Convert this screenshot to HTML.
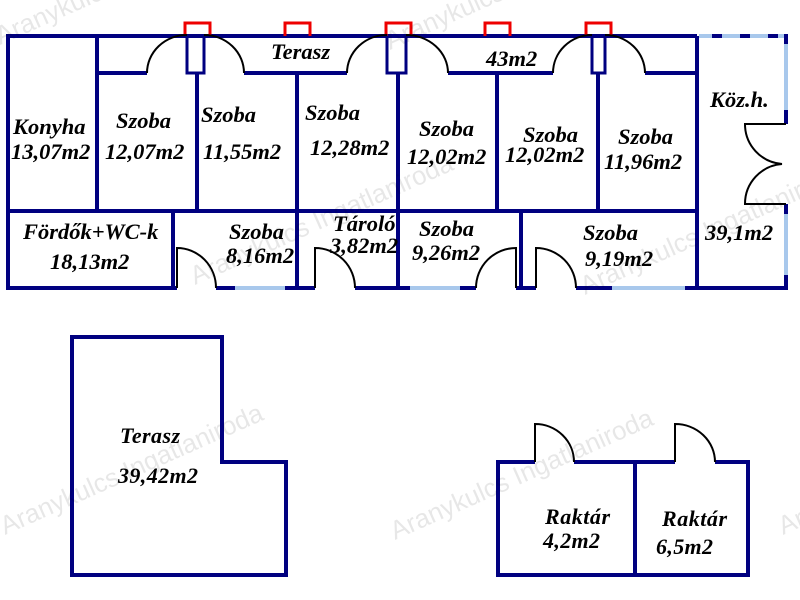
<!DOCTYPE html>
<html><head><meta charset="utf-8"><style>
html,body{margin:0;padding:0;background:#fff;width:800px;height:600px;overflow:hidden}
svg text{font-family:"Liberation Serif",serif;font-weight:bold;font-style:italic;font-size:22.5px;fill:#000}
.wm{font-family:"Liberation Sans",sans-serif;font-style:normal;font-weight:normal;font-size:26px;fill:#000;opacity:0.09}
</style></head><body>
<svg width="800" height="600" viewBox="0 0 800 600" xmlns="http://www.w3.org/2000/svg">
<g fill="none" stroke="#000080" stroke-width="4">
<polyline points="8,36 697,36"/>
<line x1="8" y1="34" x2="8" y2="290"/>
<line x1="8" y1="288" x2="786" y2="288"/>
<line x1="97" y1="73" x2="147" y2="73"/>
<line x1="244" y1="73" x2="347" y2="73"/>
<line x1="448" y1="73" x2="553" y2="73"/>
<line x1="645" y1="73" x2="697" y2="73"/>
<rect x="187" y="36" width="17" height="37" stroke-width="3"/>
<rect x="387" y="36" width="19" height="37" stroke-width="3"/>
<rect x="592" y="36" width="13" height="37" stroke-width="3"/>
<line x1="97" y1="36" x2="97" y2="211"/>
<line x1="197" y1="73" x2="197" y2="211"/>
<line x1="297" y1="73" x2="297" y2="288"/>
<line x1="398" y1="73" x2="398" y2="288"/>
<line x1="497" y1="73" x2="497" y2="211"/>
<line x1="598" y1="73" x2="598" y2="211"/>
<line x1="697" y1="36" x2="697" y2="288"/>
<line x1="8" y1="211" x2="697" y2="211"/>
<line x1="173" y1="211" x2="173" y2="288"/>
<line x1="521" y1="211" x2="521" y2="288"/>
</g>
<g stroke="#a8c8ec" stroke-width="4">
<line x1="235" y1="288" x2="285" y2="288"/>
<line x1="410" y1="288" x2="460" y2="288"/>
<line x1="612" y1="288" x2="685" y2="288"/>
<line x1="699" y1="36" x2="786" y2="36"/>
<line x1="786" y1="36" x2="786" y2="288"/>
</g>
<g stroke="#fff" stroke-width="5">
<line x1="177" y1="288" x2="216" y2="288"/>
<line x1="315" y1="288" x2="355" y2="288"/>
<line x1="476" y1="288" x2="516" y2="288"/>
<line x1="536" y1="288" x2="576" y2="288"/>
<line x1="786" y1="124" x2="786" y2="204"/>
</g>
<g stroke="#000080" stroke-width="4">
<line x1="712" y1="36" x2="722" y2="36"/><line x1="740" y1="36" x2="750" y2="36"/><line x1="768" y1="36" x2="778" y2="36"/>
<line x1="786" y1="34" x2="786" y2="44"/><line x1="786" y1="110" x2="786" y2="124"/><line x1="786" y1="204" x2="786" y2="214"/><line x1="786" y1="275" x2="786" y2="290"/>
</g>
<g fill="none" stroke="#ee0000" stroke-width="3">
<polyline points="185,36 185,23 210,23 210,36"/>
<polyline points="285,36 285,23 310,23 310,36"/>
<polyline points="386,36 386,23 411,23 411,36"/>
<polyline points="485,36 485,23 510,23 510,36"/>
<polyline points="586,36 586,23 611,23 611,36"/>
</g>
<g fill="none" stroke="#000" stroke-width="2">
<path d="M147,73 A40,38 0 0 1 187,35"/>
<path d="M204,35 A40,38 0 0 1 244,73"/>
<path d="M347,73 A40,38 0 0 1 387,35"/>
<path d="M406,35 A42,38 0 0 1 448,73"/>
<path d="M553,73 A39,38 0 0 1 592,35"/>
<path d="M605,35 A40,38 0 0 1 645,73"/>
<path d="M177,288 V248 A39,40 0 0 1 216,288"/>
<path d="M315,288 V248 A40,40 0 0 1 355,288"/>
<path d="M516,288 V248 A40,40 0 0 0 476,288"/>
<path d="M536,288 V248 A40,40 0 0 1 576,288"/>
<path d="M786,124 H745 A40,40 0 0 0 782,164 A40,40 0 0 0 745,204 H786"/>
</g>
<g fill="none" stroke="#000080" stroke-width="4">
<polygon points="72,337 222,337 222,462 286,462 286,575 72,575"/>
<polyline points="535,462 498,462 498,575 748,575 748,462 715,462"/>
<line x1="574" y1="462" x2="675" y2="462"/>
<line x1="635" y1="462" x2="635" y2="575"/>
</g>
<g fill="none" stroke="#000" stroke-width="2">
<path d="M535,462 V424 A39,38 0 0 1 574,462"/>
<path d="M675,462 V424 A40,38 0 0 1 715,462"/>
</g>
<text x="13" y="134">Konyha</text><text x="11" y="159">13,07m2</text>
<text x="116" y="128">Szoba</text><text x="105" y="159">12,07m2</text>
<text x="201" y="122">Szoba</text><text x="203" y="159">11,55m2</text>
<text x="305" y="120">Szoba</text><text x="310" y="155">12,28m2</text>
<text x="271" y="59">Terasz</text>
<text x="486" y="66">43m2</text>
<text x="419" y="136">Szoba</text><text x="407" y="164">12,02m2</text>
<text x="523" y="142">Szoba</text><text x="505" y="162">12,02m2</text>
<text x="618" y="144">Szoba</text><text x="604" y="169">11,96m2</text>
<text x="710" y="107">Köz.h.</text><text x="705" y="240">39,1m2</text>
<text x="23" y="239">Fördők+WC-k</text><text x="50" y="269">18,13m2</text>
<text x="229" y="239">Szoba</text><text x="226" y="263">8,16m2</text>
<text x="333" y="231">Tároló</text><text x="330" y="253">3,82m2</text>
<text x="419" y="236">Szoba</text><text x="412" y="260">9,26m2</text>
<text x="583" y="240">Szoba</text><text x="585" y="266">9,19m2</text>
<text x="120" y="443" style="font-size:22px" textLength="60">Terasz</text><text x="118" y="483" style="font-size:22px" textLength="80">39,42m2</text>
<text x="545" y="524" style="font-size:22px" textLength="65">Raktár</text><text x="543" y="548" style="font-size:22px" textLength="57">4,2m2</text>
<text x="662" y="526" style="font-size:22px" textLength="65">Raktár</text><text x="656" y="554" style="font-size:22px" textLength="57">6,5m2</text>
<text class="wm" x="0" y="45" transform="rotate(-24 0 45)">Aranykulcs Ingatlaniroda</text>
<text class="wm" x="390" y="50" transform="rotate(-24 390 50)">Aranykulcs Ingatlaniroda</text>
<text class="wm" x="195" y="285" transform="rotate(-24 195 285)">Aranykulcs Ingatlaniroda</text>
<text class="wm" x="585" y="295" transform="rotate(-24 585 295)">Aranykulcs Ingatlaniroda</text>
<text class="wm" x="5" y="535" transform="rotate(-24 5 535)">Aranykulcs Ingatlaniroda</text>
<text class="wm" x="395" y="540" transform="rotate(-24 395 540)">Aranykulcs Ingatlaniroda</text>
<text class="wm" x="783" y="535" transform="rotate(-24 783 535)">Aranykulcs Ingatlaniroda</text>
</svg>
</body></html>
